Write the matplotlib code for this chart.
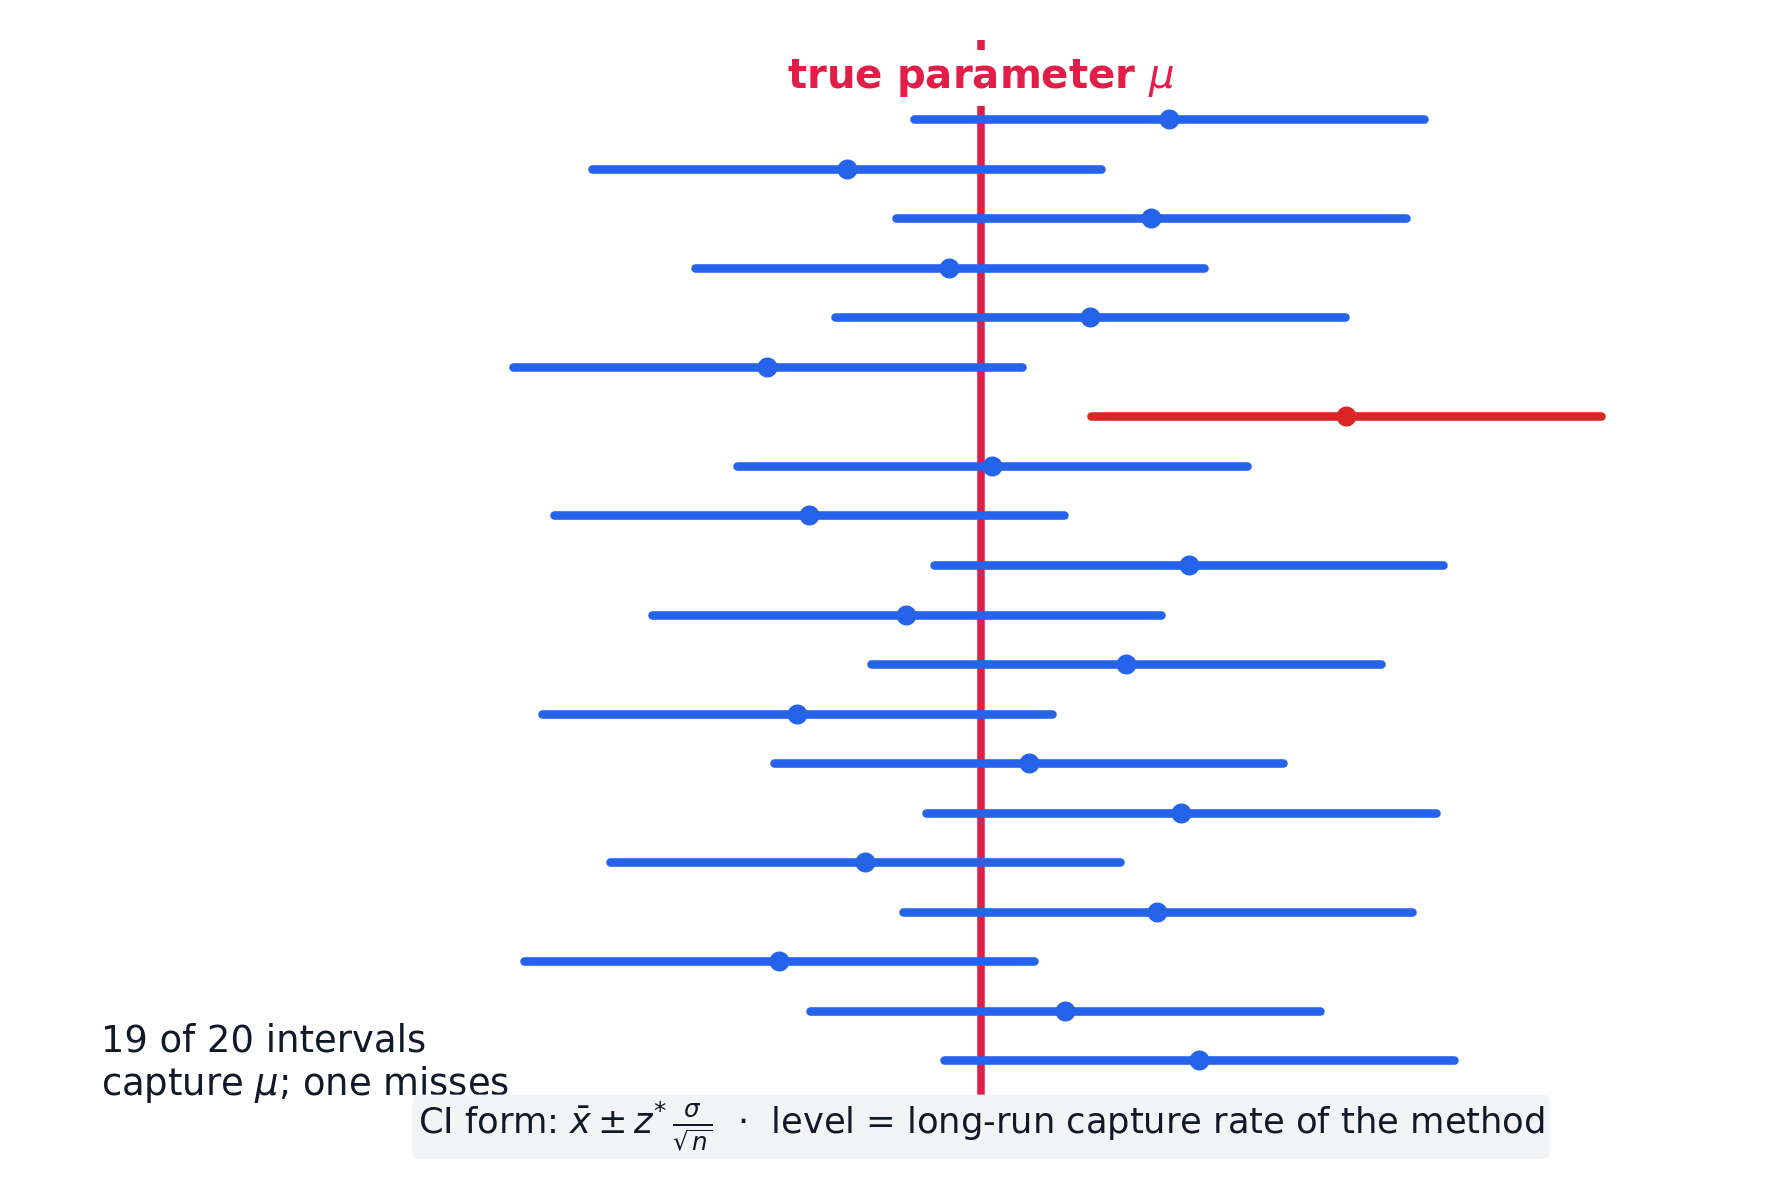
import matplotlib
matplotlib.use("Agg")
import matplotlib.pyplot as plt
import numpy as np

# sample means in standard-error units, true mean at 0
mu = 0.0
z_star = 1.96
se = 1.0
sample_means = [1.45, -1.03, 1.31, -0.24, 0.84, -1.64, 2.81, 0.09, -1.32, 1.60,
                -0.57, 1.12, -1.41, 0.37, 1.54, -0.89, 1.36, -1.55, 0.65, 1.68]

blue = "#2563eb"
miss_red = "#dc2626"
rose = "#e11d48"
ink = "#111827"

fig = plt.figure(figsize=(8.9, 5.98), dpi=200)
ax = fig.add_axes([0, 1 - 1095 / 1196, 1, (1095 - 40) / 1196])

margin = z_star * se
for i, m in enumerate(sample_means):
    lo, hi = m - margin, m + margin
    color = blue if lo <= mu <= hi else miss_red
    ax.plot([lo, hi], [i, i], color=color, lw=3.1, solid_capstyle="round", zorder=3)
    ax.plot(m, i, "o", color=color, ms=7.2, mec="none", zorder=4)

ax.axvline(mu, color=rose, lw=2.7, zorder=2)
ax.text(mu, -0.83, r"true parameter $\mu$", color=rose, fontsize=14.5,
        fontweight="bold", ha="center", va="center", zorder=5,
        bbox=dict(facecolor="white", edgecolor="none", pad=2.5))

ax.set_xlim(-980.5 / 130, (1780 - 980.5) / 130)
ax.set_ylim(19.70, -1.60)
ax.axis("off")

fig.text(101 / 1780, 1 - 1022 / 1196, "19 of 20 intervals\ncapture $\\mu$; one misses",
         fontsize=13.3, color=ink, ha="left", va="top", linespacing=1.15)

fig.text(981 / 1780, 1 - 1127 / 1196,
         r"CI form: $\bar{x} \pm z^{*}\,\frac{\sigma}{\sqrt{n}}$  $\cdot$  level = long-run capture rate of the method",
         fontsize=12.7, color=ink, ha="center", va="center",
         bbox=dict(boxstyle="round,pad=0.15,rounding_size=0.2", facecolor="#f3f4f6", edgecolor="none"))

fig.savefig("out.png", dpi=200, facecolor="white")
